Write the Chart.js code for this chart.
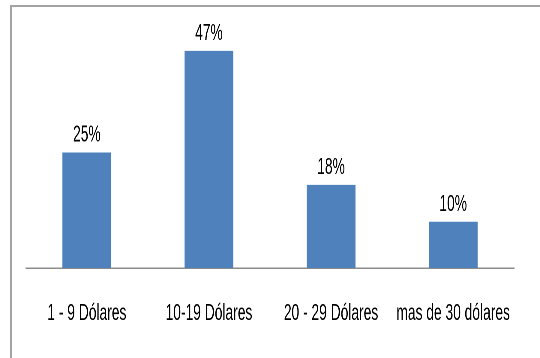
<!DOCTYPE html>
<html>
<head>
<meta charset="utf-8">
<script src="https://cdn.jsdelivr.net/npm/chart.js@4"></script>
<style>
  html, body { margin: 0; padding: 0; background: #ffffff; overflow: hidden; }
  #wrap { position: relative; width: 540px; height: 358px; overflow: hidden; background: #fff; }
  #frame { position: absolute; left: 10px; top: 5px; width: 620px; height: 500px; border: 2px solid #a3a3a3; box-sizing: border-box; }
  #squeeze { position: absolute; left: 0; top: 0; width: 900px; height: 358px; transform: scaleX(0.6); transform-origin: 0 0; }
</style>
</head>
<body>
<div id="wrap">
  <div id="frame"></div>
  <div id="squeeze"><canvas id="c" width="900" height="358"></canvas></div>
</div>
<script>
const categories = ["1 - 9 Dólares", "10-19 Dólares", "20 - 29 Dólares", "mas de 30 dólares"];
const percentValues = [25, 47, 18, 10];
const valueLabels = ["25%", "47%", "18%", "10%"];

const FONT = '"Liberation Sans", Arimo, Arial, sans-serif';

const valueLabelPlugin = {
  id: 'valueLabels',
  afterDatasetsDraw(chart) {
    const ctx = chart.ctx;
    const meta = chart.getDatasetMeta(0);
    ctx.save();
    ctx.fillStyle = '#000000';
    ctx.font = '23px ' + FONT;
    ctx.textAlign = 'center';
    ctx.textBaseline = 'alphabetic';
    meta.data.forEach((bar, i) => {
      ctx.fillText(valueLabels[i], bar.x, bar.y - 11);
    });
    ctx.restore();
  }
};

new Chart(document.getElementById('c'), {
  type: 'bar',
  data: {
    labels: categories,
    datasets: [{
      data: percentValues,
      backgroundColor: '#4F81BD',
      borderWidth: 0,
      categoryPercentage: 1.0,
      barPercentage: 0.4
    }]
  },
  options: {
    responsive: false,
    animation: false,
    devicePixelRatio: 2,
    layout: { padding: { left: 43, right: 43, top: 37, bottom: 30 } },
    plugins: {
      legend: { display: false },
      tooltip: { enabled: false }
    },
    scales: {
      x: {
        grid: { display: true, drawOnChartArea: false, drawTicks: false },
        border: { display: true, color: '#8c8c8c', width: 1.5 },
        ticks: {
          color: '#000000',
          font: { family: FONT, size: 23, lineHeight: 1.2 },
          padding: 32,
          maxRotation: 0,
          minRotation: 0,
          autoSkip: false
        },
        afterFit(scale) { scale.height = 60; }
      },
      y: {
        display: false,
        min: 0,
        max: 50
      }
    }
  },
  plugins: [valueLabelPlugin]
});
</script>
</body>
</html>
